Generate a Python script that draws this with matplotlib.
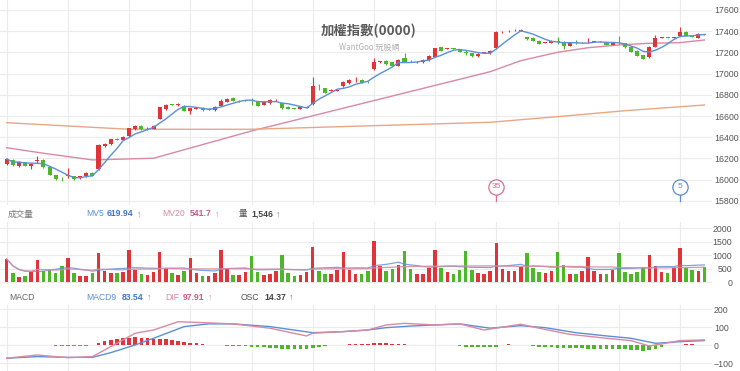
import matplotlib
matplotlib.use("Agg")
import matplotlib.pyplot as plt
import numpy as np
import pandas as pd

# ── Data ───────────────────────────────────────────────────────────────────────
opens = [16148, 16186, 16125, 16165, 16125, 16180, 16186, 16117, 16044, 16008,
         16035, 16030, 16013, 16030, 16066, 16098, 16317, 16336, 16385, 16375,
         16412, 16478, 16510, 16483, 16480, 16575, 16664, 16710, 16705, 16695,
         16650, 16670, 16680, 16660, 16657, 16695, 16735, 16773, 16740, 16745,
         16752, 16742, 16704, 16720, 16748, 16720, 16688, 16673, 16668, 16680,
         16714, 16875, 16862, 16840, 16838, 16883, 16910, 16935, 16940, 16925,
         17040, 17110, 17122, 17107, 17075, 17145, 17120, 17108, 17107, 17128,
         17160, 17248, 17236, 17240, 17230, 17200, 17192, 17166, 17197, 17192,
         17239, 17392, 17400, 17410, 17406, 17342, 17340, 17310, 17290, 17292,
         17305, 17300, 17263, 17295, 17288, 17298, 17300, 17298, 17300, 17270,
         17290, 17285, 17255, 17213, 17175, 17154, 17254, 17338, 17342, 17338,
         17355, 17395, 17352, 17340, 17372]
closes = [16195, 16138, 16165, 16132, 16150, 16187, 16117, 16044, 16006, 16002,
          16040, 16008, 16030, 16066, 16038, 16327, 16340, 16380, 16378, 16405,
          16485, 16510, 16476, 16487, 16510, 16682, 16707, 16705, 16708, 16650,
          16673, 16675, 16657, 16665, 16688, 16742, 16765, 16742, 16745, 16748,
          16748, 16698, 16732, 16751, 16752, 16673, 16670, 16668, 16688, 16684,
          16883, 16870, 16820, 16845, 16846, 16924, 16940, 16940, 16915, 16920,
          17112, 17115, 17090, 17075, 17128, 17113, 17117, 17112, 17128, 17170,
          17239, 17216, 17240, 17236, 17207, 17197, 17166, 17185, 17200, 17216,
          17395, 17395, 17405, 17412, 17410, 17324, 17308, 17280, 17295, 17310,
          17300, 17263, 17292, 17290, 17292, 17302, 17305, 17302, 17270, 17290,
          17286, 17248, 17207, 17170, 17138, 17255, 17333, 17340, 17338, 17342,
          17395, 17358, 17348, 17375, 17368]
highs = [16205, 16195, 16172, 16170, 16156, 16225, 16192, 16120, 16048, 16022,
         16110, 16035, 16035, 16072, 16070, 16332, 16350, 16385, 16392, 16410,
         16490, 16518, 16514, 16500, 16515, 16688, 16715, 16714, 16722, 16700,
         16678, 16680, 16685, 16672, 16692, 16758, 16770, 16778, 16750, 16755,
         16770, 16746, 16738, 16756, 16760, 16724, 16692, 16678, 16692, 16690,
         16971, 16900, 16866, 16852, 16852, 16930, 16946, 16965, 16945, 16930,
         17145, 17122, 17126, 17112, 17133, 17197, 17126, 17118, 17133, 17175,
         17244, 17252, 17246, 17246, 17234, 17225, 17196, 17190, 17206, 17221,
         17400, 17402, 17410, 17418, 17418, 17348, 17345, 17315, 17300, 17315,
         17345, 17305, 17297, 17320, 17298, 17340, 17311, 17308, 17305, 17295,
         17355, 17290, 17260, 17218, 17180, 17260, 17365, 17346, 17347, 17348,
         17440, 17400, 17358, 17380, 17378]
lows = [16140, 16125, 16118, 16125, 16105, 16160, 16110, 16040, 16000, 15985,
        16015, 15995, 16008, 16025, 16032, 16090, 16305, 16330, 16372, 16370,
        16405, 16472, 16470, 16465, 16475, 16570, 16660, 16700, 16690, 16645,
        16620, 16665, 16652, 16655, 16652, 16690, 16730, 16738, 16735, 16740,
        16705, 16692, 16700, 16716, 16740, 16668, 16665, 16662, 16664, 16675,
        16708, 16850, 16815, 16835, 16832, 16878, 16905, 16920, 16910, 16915,
        17035, 17104, 17085, 17070, 17070, 17108, 17111, 17104, 17102, 17123,
        17155, 17211, 17230, 17230, 17202, 17180, 17161, 17161, 17192, 17187,
        17234, 17386, 17395, 17404, 17402, 17318, 17303, 17275, 17284, 17287,
        17280, 17230, 17258, 17275, 17285, 17290, 17295, 17295, 17265, 17265,
        17283, 17243, 17202, 17165, 17133, 17149, 17249, 17332, 17334, 17332,
        17350, 17353, 17342, 17335, 17364]
volume = [862, 355, 207, 233, 381, 814, 418, 444, 355, 592,
          888, 333, 233, 244, 355, 1084, 418, 333, 333, 392,
          1195, 444, 307, 270, 392, 1132, 492, 333, 270, 419,
          912, 358, 234, 234, 358, 1196, 518, 271, 271, 395,
          986, 395, 271, 308, 419, 1011, 358, 247, 271, 395,
          1295, 432, 296, 296, 456, 1134, 470, 308, 308, 419,
          1541, 617, 432, 493, 641, 1171, 481, 308, 308, 543,
          1196, 543, 370, 321, 456, 1171, 456, 358, 308, 432,
          1443, 493, 419, 419, 555, 1085, 543, 395, 333, 432,
          1134, 641, 296, 308, 419, 925, 432, 296, 308, 456,
          1085, 395, 321, 370, 543, 1011, 592, 395, 358, 543,
          1258, 518, 444, 419, 580]

# moving averages drawn by the site (sparse vertices: bar index, value)
ma20_at = [0, 6, 14, 24, 40, 79, 84, 90, 95, 100, 105, 110, 114]
ma20_val = [16301, 16249, 16186, 16202, 16459, 17018, 17122, 17201, 17244,
            17270, 17286, 17292, 17317]
ma60_at = [0, 20, 40, 79, 90, 101, 114]
ma60_val = [16537, 16475, 16475, 16541, 16594, 16650, 16704]

dif_at = [0, 5, 10, 14, 16, 21, 24, 28, 32, 37, 43, 49, 50, 55, 59, 62, 65,
          70, 74, 78, 84, 87, 92, 98, 102, 105, 107, 110, 114]
dif_val = [-71, -53, -68, -62, -25, 68, 86, 132, 127, 120, 96, 53, 68, 77, 86,
           114, 123, 114, 120, 86, 118, 96, 62, 40, 27, -3, 8, 27, 31]
macd_at = [0, 5, 10, 14, 17, 21, 24, 29, 33, 37, 43, 50, 55, 59, 62, 66, 70,
           74, 79, 84, 88, 93, 98, 102, 106, 110, 114]
macd_val = [-71, -62, -66, -66, -40, 3, 40, 105, 120, 120, 105, 71, 77, 86, 99,
            108, 114, 120, 96, 110, 99, 71, 53, 40, 12, 21, 27]
osc = [1, 2, 2, 3, 3, 2, 2, 1, -2, -3,
       -3, -2, -2, -1, 0, 16, 25, 31, 38, 42,
       44, 46, 42, 40, 38, 36, 35, 31, 27, 21,
       16, 12, 7, 3, 1, 0, -1, -2, -5, -5,
       -6, -7, -9, -12, -15, -18, -20, -22, -22, -20,
       -15, -8, -2, 0, 2, 5, 6, 7, 7, 8,
       12, 15, 12, 10, 8, 6, 4, 2, 2, 1,
       2, 1, 1, 0, -2, -6, -8, -9, -10, -9,
       -6, 5, 6, 5, 3, 0, -5, -7, -9, -11,
       -12, -13, -14, -15, -16, -17, -18, -18, -19, -20,
       -21, -22, -24, -27, -29, -25, -18, -8, 0, 2,
       5, 6, 6, 5, 5]

price_ticks = [15800, 16000, 16200, 16400, 16600, 16800, 17000, 17200, 17400, 17600]
vol_ticks = [0, 500, 1000, 1500, 2000]
macd_ticks = [-100, 0, 100, 200]
events = [(80, "35", "#d8708e"), (110, "5", "#5b88d4")]

# ── Style ──────────────────────────────────────────────────────────────────────
RED = "#e0343a"
GREEN = "#4cb828"
BLUE = "#5b8fd8"
PINK = "#d98aa2"
ORANGE = "#e8a783"
GRID = "#ececec"
LATIN = ["Liberation Sans", "DejaVu Sans"]
CJK = ["Noto Sans CJK TC", "DejaVu Sans"]
W, H = 740, 371

plt.rcParams["font.family"] = LATIN

n = len(closes)
x = np.arange(n)
up = np.array(closes) >= np.array(opens)
colors = np.where(up, RED, GREEN)

fig = plt.figure(figsize=(W / 100, H / 100), dpi=100)


def px_axes(left, top, right, bottom):
    return fig.add_axes([left / W, 1 - bottom / H, (right - left) / W, (bottom - top) / H])


def style(ax, ylim, ticks, ha="left", pad=1.5):
    ax.set_xlim(-1.095, 115.24)
    ax.set_ylim(*ylim)
    ax.set_xticks(np.arange(0, n, 10))
    ax.set_yticks(ticks)
    ax.grid(True, color=GRID, linewidth=0.8)
    ax.set_axisbelow(True)
    for s in ax.spines.values():
        s.set_visible(False)
    ax.yaxis.tick_right()
    ax.tick_params(length=0, labelbottom=False, labelsize=6.3, labelcolor="#555555", pad=pad)
    for lab in ax.get_yticklabels():
        lab.set_horizontalalignment(ha)


# ── Price panel ────────────────────────────────────────────────────────────────
ax = px_axes(0, 0, 712, 205)
style(ax, (15761, 17694), price_ticks)
ax.vlines(x, lows, highs, colors=colors, linewidth=0.8, zorder=2)
body_lo = np.minimum(opens, closes)
body_h = np.maximum(np.abs(np.array(closes) - np.array(opens)), 4)
ax.bar(x, body_h, bottom=body_lo, width=0.66, color=colors, zorder=3)
ma5 = pd.Series(closes).rolling(5, min_periods=1).mean()
ax.plot(x, ma5, color=BLUE, linewidth=1.0, zorder=4)
ax.plot(ma20_at, ma20_val, color=PINK, linewidth=1.0, zorder=1.5)
ax.plot(ma60_at, ma60_val, color=ORANGE, linewidth=1.0, zorder=1.5)

for i, lab, c in events:
    ax.plot([i, i], [15800, 15860], color=c, linewidth=0.9, zorder=4)
    ax.plot(i, 15931, marker="o", markersize=11, markerfacecolor="white",
            markeredgecolor=c, markeredgewidth=0.9, zorder=5)
    ax.text(i, 15931, lab, color=c, fontsize=6, ha="center", va="center", zorder=6)

fig.text(369 / W, 1 - 31 / H, "加權指數(0000)", family=CJK, fontsize=9.6, fontweight="bold",
         color="#5a5a5a", ha="center", va="center")
fig.text(369 / W, 1 - 47 / H, "WantGoo 玩股網", family=CJK, fontsize=5.8,
         color="#b0b0b0", ha="center", va="center")

# ── Volume panel ───────────────────────────────────────────────────────────────
axv = px_axes(0, 222, 712, 284)
style(axv, (-63, 2231), vol_ticks, ha="right", pad=14.5)
axv.bar(x, volume, width=0.58, color=colors, zorder=2)
vs = pd.Series(volume)
axv.plot(x, vs.rolling(5, min_periods=1).mean(), color=BLUE, linewidth=0.9, alpha=0.8, zorder=3)
axv.plot(x, vs.rolling(20, min_periods=1).mean(), color=PINK, linewidth=0.9, alpha=0.9, zorder=3)

# ── MACD panel ─────────────────────────────────────────────────────────────────
axm = px_axes(0, 305, 712, 371)
style(axm, (-142, 225), macd_ticks)
axm.bar(x, osc, width=0.6, color=np.where(np.array(osc) >= 0, RED, GREEN), zorder=2)
axm.plot(macd_at, macd_val, color=BLUE, linewidth=1.0, zorder=3)
axm.plot(dif_at, dif_val, color=PINK, linewidth=1.0, zorder=3)


# ── Legend rows ────────────────────────────────────────────────────────────────
def row(y, parts):
    for xp, txt, col, bold, fam in parts:
        fig.text(xp / W, 1 - y / H, txt, color=col, fontsize=6.2, family=fam,
                 fontweight="bold" if bold else "normal", va="center", ha="left")


row(214, [(8, "成交量", "#777777", False, CJK),
          (86, "MV5", BLUE, False, LATIN), (107, "619.94", "#3f74c9", True, LATIN),
          (137, "↑", BLUE, False, LATIN),
          (162, "MV20", PINK, False, LATIN), (190, "541.7", "#cc5a80", True, LATIN),
          (215, "↑", PINK, False, LATIN),
          (239, "量", "#555555", False, CJK), (251, "1,546", "#444444", True, LATIN),
          (276, "↑", "#777777", False, LATIN)])
row(297, [(9, "MACD", "#666666", False, LATIN),
          (86, "MACD9", BLUE, False, LATIN), (122, "83.54", "#3f74c9", True, LATIN),
          (147, "↑", BLUE, False, LATIN),
          (165, "DIF", PINK, False, LATIN), (183, "97.91", "#cc5a80", True, LATIN),
          (208, "↑", PINK, False, LATIN),
          (241, "OSC", "#555555", False, LATIN), (264, "14.37", "#444444", True, LATIN),
          (289, "↑", "#777777", False, LATIN)])

fig.savefig("out.png", dpi=100)
